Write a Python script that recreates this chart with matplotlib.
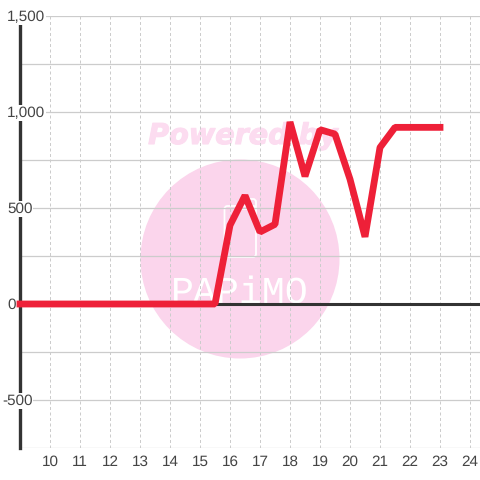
import matplotlib
matplotlib.use("Agg")
import matplotlib.pyplot as plt
import matplotlib.patheffects as pe
from matplotlib.patches import Circle, FancyBboxPatch

hours = [9, 9.5, 10, 10.5, 11, 11.5, 12, 12.5, 13, 13.5, 14, 14.5, 15, 15.5,
         16, 16.5, 17, 17.5, 18, 18.5, 19, 19.5, 20, 20.5, 21, 21.5, 22, 22.5, 23]
values = [0, 0, 0, 0, 0, 0, 0, 0, 0, 0, 0, 0, 0, 0,
          410, 565, 375, 415, 948, 665, 908, 885, 650, 350, 815, 920, 920, 920, 920]

x_ticks = list(range(10, 25))
y_major = [1500, 1000, 500, 0, -500]
y_labels = ["1,500", "1,000", "500", "0", "-500"]
y_grid = [-750, -500, -250, 0, 250, 500, 750, 1000, 1250, 1500]

plt.rcParams["font.family"] = ["Liberation Sans", "DejaVu Sans"]
plt.rcParams["text.hinting"] = "no_hinting"
text_color = "#444444"
pink = "#fbd5ec"

fig = plt.figure(figsize=(4.8, 4.8), dpi=100)

# watermark sits behind the chart, in pixel coords
bg = fig.add_axes([0, 0, 1, 1], zorder=0)
bg.set_xlim(0, 480)
bg.set_ylim(480, 0)
bg.axis("off")
bg.add_patch(Circle((240, 259), 99.5, color=pink, lw=0))
bg.text(243, 144, "Powered by", color="#fcdcf0", fontsize=20.6, family="DejaVu Sans",
        weight="bold", style="italic", ha="center", va="baseline",
        path_effects=[pe.withStroke(linewidth=0.8, foreground="#fcdcf0")])
bg.add_patch(FancyBboxPatch((224.5, 206), 31.5, 51, boxstyle="round,pad=0,rounding_size=3",
                            fc="none", ec="white", lw=1.3))
bg.add_patch(FancyBboxPatch((239, 199), 17, 10, boxstyle="round,pad=0,rounding_size=3",
                            fc="none", ec="white", lw=1.3))
bg.text(240, 303, "PAPiMO", color="white", fontsize=27.5, family="Liberation Mono",
        ha="center", va="baseline")

ax = fig.add_axes([20 / 480, 32 / 480, 460 / 480, 432 / 480], zorder=1)
ax.patch.set_alpha(0)
ax.set_xlim(9, 9 + 460 / 30)
ax.set_ylim(-750, 1500)
for s in ax.spines.values():
    s.set_visible(False)

ax.set_xticks(x_ticks)
ax.set_yticks(y_grid)
ax.set_yticklabels([])
ax.tick_params(axis="both", length=0)
ax.tick_params(axis="x", labelsize=11, labelcolor=text_color, pad=5)
ax.grid(axis="y", color="#cccccc", lw=0.9, zorder=1)
ax.grid(axis="x", color="#cccccc", lw=0.72, ls=(0, (3, 2.5)), zorder=1)
ax.set_axisbelow(True)

# y axis and zero line
ax.axvline(9, color="#333333", lw=2.4, zorder=2, clip_on=False)
ax.axhline(0, color="#333333", lw=2.2, zorder=2)

for v, lab in zip(y_major, y_labels):
    px = 2.2 if lab.startswith("-") else 7
    ax.annotate(lab, xy=((px - 20) / 460, v), xycoords=ax.get_yaxis_transform(),
                xytext=(0, -1), textcoords="offset pixels", color=text_color,
                fontsize=11, ha="left", va="center", zorder=3, annotation_clip=False,
                bbox=dict(fc="white", ec="none", pad=0.6))

ax.plot(hours, values, color="#ee2038", lw=4.9, solid_capstyle="projecting",
        solid_joinstyle="bevel", zorder=4, clip_on=False)

fig.savefig("out.png", dpi=100)
